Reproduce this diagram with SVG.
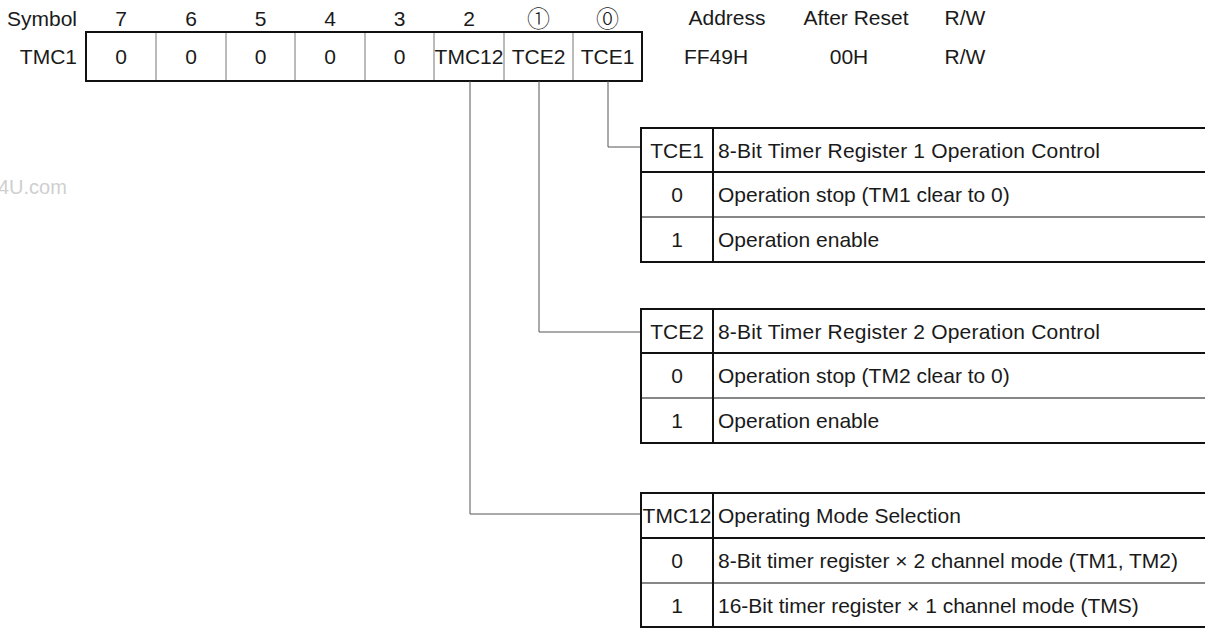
<svg xmlns="http://www.w3.org/2000/svg" width="1205" height="628" viewBox="0 0 1205 628">
<style>
text{font-family:"Liberation Sans","DejaVu Sans","Noto Sans CJK JP",sans-serif;font-size:21px;fill:#1a1a1a}
.c{text-anchor:middle}
.r{text-anchor:end}
.circ{font-family:"Noto Sans CJK JP","DejaVu Sans",sans-serif;font-size:23px;font-weight:300}
.thick{stroke:#111;stroke-width:2;fill:none}
.thin{stroke:#111;stroke-width:1;fill:none}
.div{stroke:#777;stroke-width:1;fill:none}
.conn{stroke:#555;stroke-width:1;fill:none}
.wm{fill:#cfcfcf;font-size:20px}
</style>
<rect width="1205" height="628" fill="#fff"/>
<text class="wm" x="-2" y="194">4U.com</text>
<g id="labels">
<text class="r" x="77" y="26">Symbol</text>
<text class="r" x="77" y="64">TMC1</text>
<text class="c" x="121" y="26">7</text>
<text class="c" x="191" y="26">6</text>
<text class="c" x="260.5" y="26">5</text>
<text class="c" x="330" y="26">4</text>
<text class="c" x="399.5" y="26">3</text>
<text class="c" x="469" y="26">2</text>
<text class="c circ" x="538.5" y="27">①</text>
<text class="c circ" x="607.5" y="27">⓪</text>
</g>
<g id="info">
<text class="c" x="727" y="25">Address</text>
<text class="c" x="856" y="25">After Reset</text>
<text class="c" x="965" y="25">R/W</text>
<text class="c" x="716" y="64">FF49H</text>
<text class="c" x="849" y="64">00H</text>
<text class="c" x="965" y="64">R/W</text>
</g>
<g id="register">
<path class="div" d="M156 32V81M226 32V81M295 32V81M365 32V81M434 32V81M504 32V81M573 32V81"/>
<rect class="thick" x="86" y="32" width="556" height="49"/>
<text class="c" x="121" y="64">0</text>
<text class="c" x="191" y="64">0</text>
<text class="c" x="260.5" y="64">0</text>
<text class="c" x="330" y="64">0</text>
<text class="c" x="399.5" y="64">0</text>
<text class="c" x="469" y="64">TMC12</text>
<text class="c" x="538.5" y="64">TCE2</text>
<text class="c" x="607.5" y="64">TCE1</text>
</g>
<g id="connectors">
<path class="conn" d="M608 81V147H641"/>
<path class="conn" d="M539 81V332H641"/>
<path class="conn" d="M470 81V514H641"/>
</g>
<g id="table-tce1">
<path class="thick" d="M1206 128H641V262H1206M641 172H1206M713 128V262"/>
<path class="thin" d="M641 217H1206"/>
<text class="c" x="677" y="157.5">TCE1</text>
<text x="718" y="157.5" textLength="382" lengthAdjust="spacing">8-Bit Timer Register 1 Operation Control</text>
<text class="c" x="677" y="202">0</text>
<text x="718" y="202">Operation stop (TM1 clear to 0)</text>
<text class="c" x="677" y="247">1</text>
<text x="718" y="247">Operation enable</text>
</g>
<g id="table-tce2">
<path class="thick" d="M1206 309H641V443H1206M641 353H1206M713 309V443"/>
<path class="thin" d="M641 398H1206"/>
<text class="c" x="677" y="338.5">TCE2</text>
<text x="718" y="338.5" textLength="382" lengthAdjust="spacing">8-Bit Timer Register 2 Operation Control</text>
<text class="c" x="677" y="383">0</text>
<text x="718" y="383">Operation stop (TM2 clear to 0)</text>
<text class="c" x="677" y="428">1</text>
<text x="718" y="428">Operation enable</text>
</g>
<g id="table-tmc12">
<path class="thick" d="M1206 493H641V627H1206M641 538H1206M713 493V627"/>
<path class="thin" d="M641 583H1206"/>
<text class="c" x="677" y="523">TMC12</text>
<text x="718" y="523">Operating Mode Selection</text>
<text class="c" x="677" y="568">0</text>
<text x="718" y="568">8-Bit timer register × 2 channel mode (TM1, TM2)</text>
<text class="c" x="677" y="613">1</text>
<text x="718" y="613">16-Bit timer register × 1 channel mode (TMS)</text>
</g>
</svg>
